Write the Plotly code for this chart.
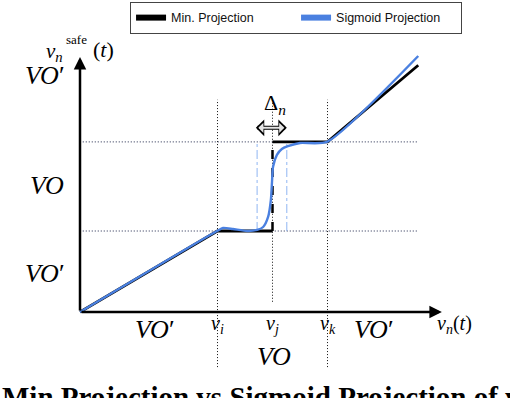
import plotly.graph_objects as go

# velocity thresholds on the horizontal axis
v_i, v_j, v_k = 2.5, 3.5, 4.5
# projected levels on the vertical axis
vo_low, vo_high = 1.5, 3.15

# min projection (piecewise)
min_x = [0, v_i, v_j, None, v_j, v_k, 6.15]
min_y = [0, vo_low, vo_low, None, vo_high, vo_high, 4.57]
jump_x = [v_j, v_j]
jump_y = [vo_low, vo_high]

# sigmoid projection, points
sig_x = [0, 2.49, 2.6, 2.78, 3.04, 3.22, 3.33, 3.42, 3.47, 3.49, 3.51, 3.58, 3.67, 3.78, 4.0, 4.49, 6.15]
sig_y = [0, 1.5, 1.556, 1.537, 1.5, 1.52, 1.574, 1.76, 2.07, 2.39, 2.69, 2.91, 3.02, 3.07, 3.13, 3.15, 4.74]

# width of the sigmoid transition
delta_lo, delta_hi = 3.22, 3.76

BLACK = "#000000"
BLUE = "#4a80e0"
SERIF = "Liberation Serif, Times New Roman, serif"
DOTS = "1px,2px"

fig = go.Figure()

# dotted guide lines
for xv, ybot in [(v_i, -1.02), (v_j, 0.19), (v_k, -1.02)]:
    fig.add_trace(go.Scatter(x=[xv, xv], y=[ybot, 3.93], mode="lines", showlegend=False,
                             line=dict(color="#111111", width=1, dash=DOTS), hoverinfo="skip"))
for yv in [vo_low, vo_high]:
    fig.add_trace(go.Scatter(x=[0.05, 6.15], y=[yv, yv], mode="lines", showlegend=False,
                             line=dict(color="#1c2448", width=1, dash=DOTS), hoverinfo="skip"))
for xv in [delta_lo, delta_hi]:
    fig.add_trace(go.Scatter(x=[xv, xv], y=[vo_low, vo_high], mode="lines", showlegend=False,
                             line=dict(color="#8fb5f2", width=1, dash="dashdot"), hoverinfo="skip"))

fig.add_trace(go.Scatter(x=min_x, y=min_y, mode="lines", showlegend=False,
                         line=dict(color=BLACK, width=2.8)))
fig.add_trace(go.Scatter(x=jump_x, y=jump_y, mode="lines", showlegend=False,
                         line=dict(color=BLACK, width=2.5, dash="dash")))
fig.add_trace(go.Scatter(x=sig_x, y=sig_y, mode="lines", showlegend=False,
                         line=dict(color=BLUE, width=2.4, shape="spline", smoothing=0.6)))

# legend-only entries with thick samples
fig.add_trace(go.Scatter(x=[None], y=[None], mode="lines", name="Min. Projection",
                         line=dict(color=BLACK, width=6)))
fig.add_trace(go.Scatter(x=[None], y=[None], mode="lines", name="Sigmoid Projection",
                         line=dict(color=BLUE, width=6)))

ann = []
# axes with arrow heads
ann.append(dict(x=6.58, y=0, ax=0, ay=0, axref="x", ayref="y", showarrow=True, text="",
                arrowhead=2, arrowsize=1, arrowwidth=2.5, arrowcolor=BLACK))
ann.append(dict(x=0, y=4.72, ax=0, ay=0, axref="x", ayref="y", showarrow=True, text="",
                arrowhead=2, arrowsize=1, arrowwidth=2.5, arrowcolor=BLACK))
# hollow double arrow for the transition width
ann.append(dict(x=delta_hi, y=3.41, ax=delta_lo - 0.05, ay=3.41, axref="x", ayref="y", showarrow=True,
                text="", arrowhead=1, startarrowhead=1, arrowside="end+start", arrowsize=0.7,
                startarrowsize=0.7, arrowwidth=4, arrowcolor=BLACK))
ann.append(dict(x=delta_hi, y=3.41, ax=delta_lo - 0.05, ay=3.41, axref="x", ayref="y", showarrow=True,
                text="", arrowhead=1, startarrowhead=1, arrowside="end+start", arrowsize=0.85,
                startarrowsize=0.85, arrowwidth=2, arrowcolor="#e4e4e4", standoff=2.5, startstandoff=2.5))


def label(x, y, text, size=26):
    ann.append(dict(x=x, y=y, text=text, showarrow=False, xanchor="center", yanchor="middle",
                    font=dict(family=SERIF, size=size, color=BLACK)))


VOP = "<i>VO</i>′"
label(-0.64, 4.38, VOP)
label(-0.6, 2.35, "<i>VO</i>")
label(-0.64, 0.72, VOP)
label(1.36, -0.33, VOP)
label(5.34, -0.33, VOP)
label(3.53, -0.83, "<i>VO</i>")
label(v_i, -0.24, "<i>v<sub>i</sub></i>", 20)
label(v_j, -0.24, "<i>v<sub>j</sub></i>", 20)
label(v_k, -0.24, "<i>v<sub>k</sub></i>", 20)
label(6.8, -0.24, "<i>v<sub>n</sub></i>(<i>t</i>)", 20)
# vertical axis title, superscript stacked over the subscript
label(-0.46, 4.81, "<i>v<sub>n</sub></i>", 21)
label(-0.06, 5.05, "safe", 13)
label(0.42, 4.86, "(<i>t</i>)", 22)
label(3.55, 3.86, "Δ<sub><i>n</i></sub>", 22)

# caption, clipped at the bottom like the reference
ann.append(dict(x=0.0, y=-0.042, xref="paper", yref="paper", xanchor="left", yanchor="bottom",
                showarrow=False, text="<b>Min Projection vs Sigmoid Projection of velocities</b>",
                font=dict(family=SERIF, size=29, color=BLACK)))

fig.update_layout(
    width=510, height=398,
    margin=dict(l=0, r=0, t=0, b=0),
    paper_bgcolor="white", plot_bgcolor="white",
    xaxis=dict(range=[-80 / 55, 430 / 55], visible=False, fixedrange=True),
    yaxis=dict(range=[-86 / 54, 312 / 54], visible=False, fixedrange=True),
    annotations=ann,
    showlegend=True,
    legend=dict(orientation="h", x=0.255, y=0.995, xanchor="left", yanchor="top",
                bordercolor="#444444", borderwidth=1, bgcolor="white",
                font=dict(family="Liberation Sans, Arial, sans-serif", size=12.5, color="#111111"),
                entrywidth=120),
)

# drop the page's default body margin so the figure sits at the window corner
fig.write_html("out.html", config={"displayModeBar": False},
               post_script="document.body.style.margin='0';")
